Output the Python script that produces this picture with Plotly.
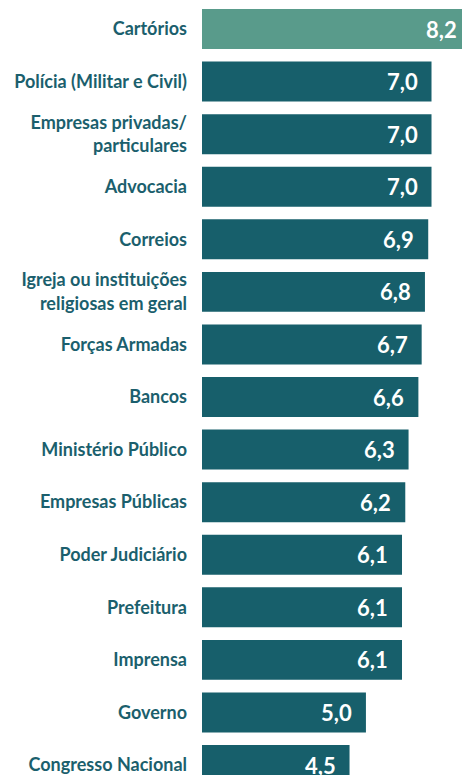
import plotly.graph_objects as go

categories = [
    "Cartórios",
    "Polícia (Militar e Civil)",
    "Empresas privadas/<br>particulares",
    "Advocacia",
    "Correios",
    "Igreja ou instituições<br>religiosas em geral",
    "Forças Armadas",
    "Bancos",
    "Ministério Público",
    "Empresas Públicas",
    "Poder Judiciário",
    "Prefeitura",
    "Imprensa",
    "Governo",
    "Congresso Nacional",
]
values = [8.2, 7.0, 7.0, 7.0, 6.9, 6.8, 6.7, 6.6, 6.3, 6.2, 6.1, 6.1, 6.1, 5.0, 4.5]
value_labels = [f"{v:.1f}".replace(".", ",") for v in values]

DARK = "#175f6b"
LIGHT = "#599b8b"
colors = [LIGHT] + [DARK] * (len(values) - 1)

X_MAX = 7.93

fig = go.Figure(
    go.Bar(
        x=values,
        y=categories,
        orientation="h",
        marker=dict(color=colors, line=dict(width=0)),
        width=0.76,
        hoverinfo="skip",
    )
)

for cat, v, t in zip(categories, values, value_labels):
    clipped = v > X_MAX
    fig.add_annotation(
        x=min(v, X_MAX), y=cat, xref="x", yref="y", text=t, showarrow=False,
        xanchor="right", yanchor="middle", xshift=-3 if clipped else -12,
        font=dict(family="Lato", size=22, color="white", weight="bold"),
    )

fig.update_layout(
    width=462,
    height=775,
    margin=dict(l=202, r=0, t=0, b=0),
    paper_bgcolor="white",
    plot_bgcolor="white",
    showlegend=False,
    xaxis=dict(range=[0, X_MAX], visible=False, fixedrange=True),
    yaxis=dict(
        type="category",
        categoryorder="array",
        categoryarray=categories,
        range=[14.19, -0.552],
        showgrid=False,
        zeroline=False,
        showline=False,
        ticks="",
        ticklabelstandoff=14,
        tickfont=dict(family="Lato", size=18, color="#1b5f6d", weight="bold"),
        fixedrange=True,
    ),
)

fig.write_html(
    "out.html",
    config={"displayModeBar": False, "staticPlot": True},
    post_script="document.body.style.margin='0px';document.body.style.overflow='hidden';",
)
